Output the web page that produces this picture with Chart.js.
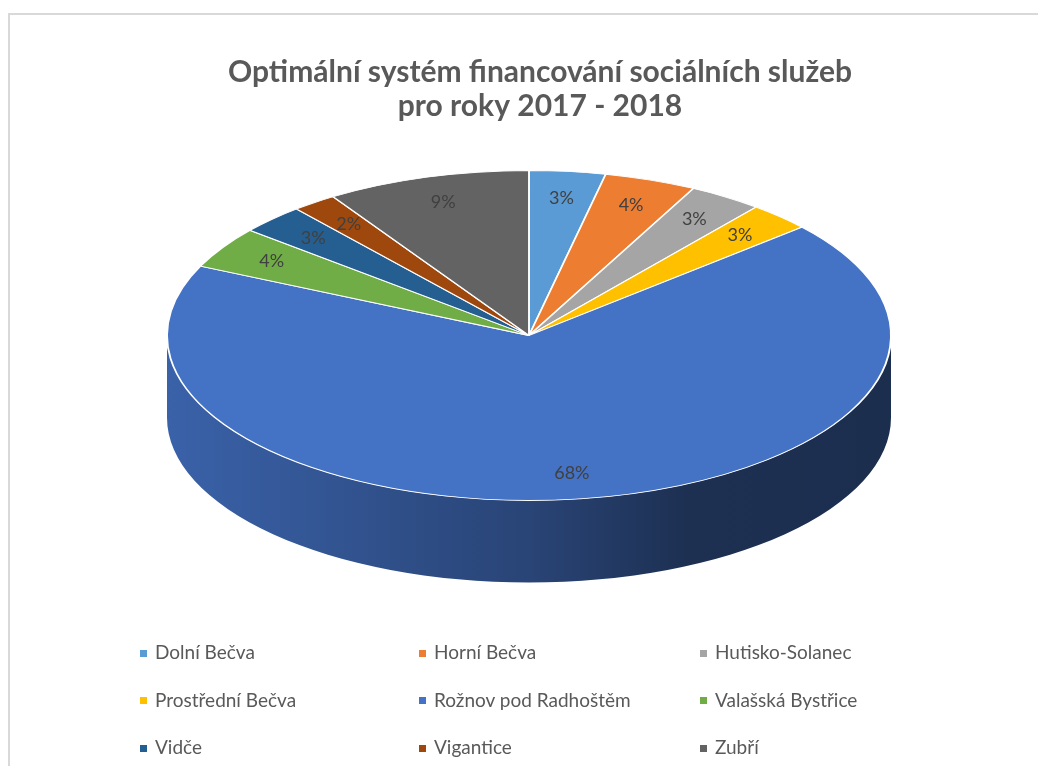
<!DOCTYPE html>
<html>
<head>
<meta charset="utf-8">
<title>Optimální systém financování sociálních služeb</title>
<script src="https://cdn.jsdelivr.net/npm/chart.js@4.4.1/dist/chart.umd.min.js"></script>
<style>
    html, body { margin: 0; padding: 0; background: #fff; }
    #wrap { position: relative; width: 1038px; height: 766px; overflow: hidden; }
    #frame {
        position: absolute; left: 8px; top: 13px; width: 1100px; height: 800px;
        border-left: 2px solid #d9d9d9; border-top: 2px solid #d9d9d9;
    }
    #chartBox { position: absolute; left: 0; top: 0; width: 1038px; height: 766px; }
    #legend { position: absolute; left: 0; top: 0; font-family: Lato, sans-serif; font-size: 19px; color: #595959; }
    #legend .item { position: absolute; white-space: nowrap; line-height: 22px; }
    #legend .box { display: inline-block; width: 7px; height: 7px; margin-right: 8px; vertical-align: middle; position: relative; top: -1px; }
</style>
</head>
<body>
<div id="wrap">
    <div id="frame"></div>
    <div id="chartBox"><canvas id="pieChart"></canvas></div>
    <div id="legend"></div>
</div>
<script>
// ========================================
// Data
// ========================================
const titleLines = ['Optimální systém financování sociálních služeb', 'pro roky 2017 - 2018'];

const municipalities = [
    'Dolní Bečva', 'Horní Bečva', 'Hutisko-Solanec',
    'Prostřední Bečva', 'Rožnov pod Radhoštěm', 'Valašská Bystřice',
    'Vidče', 'Vigantice', 'Zubří'
];

// share in percent
const shares = [3.4, 4.1, 3.3, 2.8, 68.3, 4.1, 2.9, 2.0, 9.1];

const sliceColors = [
    '#5b9bd5', '#ed7d31', '#a5a5a5',
    '#ffc000', '#4472c4', '#70ad47',
    '#255e91', '#9e480e', '#636363'
];

// ========================================
// Helpers
// ========================================
function shade(hex, f) {
    const n = parseInt(hex.slice(1), 16);
    const r = Math.round(((n >> 16) & 255) * f);
    const g = Math.round(((n >> 8) & 255) * f);
    const b = Math.round((n & 255) * f);
    return `rgb(${r}, ${g}, ${b})`;
}

/**
 * Fake 3D pie: draws the side wall, then squashes the library's arcs into an ellipse
 */
const pie3d = {
    id: 'pie3d',
    beforeDatasetsDraw(chart, args, opts) {
        const meta = chart.getDatasetMeta(0);
        const first = meta.data[0];
        const R = first.outerRadius;
        const cx = first.x + opts.dx, cy = first.y;
        const ctx = chart.ctx;

        // side wall (only the front half is visible)
        meta.data.forEach((arc, i) => {
            [0, 2 * Math.PI].forEach(off => {
                const a1 = Math.max(arc.startAngle, off);
                const a2 = Math.min(arc.endAngle, off + Math.PI);
                if (a2 <= a1) return;
                const base = sliceColors[i];
                const grad = ctx.createLinearGradient(cx - opts.rx, 0, cx + opts.rx, 0);
                grad.addColorStop(0, shade(base, 0.86));
                grad.addColorStop(0.5, shade(base, 0.6));
                grad.addColorStop(0.72, shade(base, 0.42));
                grad.addColorStop(1, shade(base, 0.4));
                ctx.beginPath();
                ctx.ellipse(cx, cy, opts.rx, opts.ry, 0, a1, a2, false);
                ctx.ellipse(cx, cy + opts.depth, opts.rx, opts.ry, 0, a2, a1, true);
                ctx.closePath();
                ctx.fillStyle = grad;
                ctx.fill();
            });
        });

        ctx.save();
        ctx.translate(cx, cy);
        ctx.scale(opts.rx / R, opts.ry / R);
        ctx.translate(-first.x, -first.y);
    },
    afterDatasetsDraw(chart, args, opts) {
        const ctx = chart.ctx;
        ctx.restore();

        const meta = chart.getDatasetMeta(0);
        const data = chart.data.datasets[0].data;
        const total = data.reduce((a, b) => a + b, 0);

        ctx.save();
        ctx.font = '18px Lato';
        ctx.fillStyle = '#404040';
        ctx.textAlign = 'center';
        ctx.textBaseline = 'middle';
        meta.data.forEach((arc, i) => {
            const mid = (arc.startAngle + arc.endAngle) / 2;
            const x = arc.x + opts.dx + Math.cos(mid) * opts.rx * opts.labelPos;
            const y = arc.y + Math.sin(mid) * opts.ry * opts.labelPos;
            ctx.fillText(Math.round(data[i] / total * 100) + '%', x, y);
        });
        ctx.restore();
    }
};

// ========================================
// Chart
// ========================================
const ctx = document.getElementById('pieChart');

new Chart(ctx, {
    type: 'pie',
    data: {
        labels: municipalities,
        datasets: [{
            data: shares,
            backgroundColor: sliceColors,
            borderColor: '#ffffff',
            borderWidth: 1
        }]
    },
    options: {
        responsive: true,
        maintainAspectRatio: false,
        animation: false,
        events: [],
        layout: {
            padding: { left: 42, right: 0, top: 0, bottom: 239 }
        },
        plugins: {
            legend: { display: false },
            tooltip: { enabled: false },
            title: {
                display: true,
                text: titleLines,
                color: '#595959',
                font: { family: 'Lato', size: 30, weight: 'bold', lineHeight: 1.15 },
                padding: { top: 55, bottom: 20 }
            },
            pie3d: { rx: 362, ry: 165, depth: 82, labelPos: 0.84, dx: -11 }
        }
    },
    plugins: [pie3d]
});

// HTML legend in three columns
const legendBox = document.getElementById('legend');
const colLeft = [140, 419, 700];
municipalities.forEach((name, i) => {
    const item = document.createElement('div');
    item.className = 'item';
    item.style.left = colLeft[i % 3] + 'px';
    item.style.top = (641 + Math.floor(i / 3) * 47.5) + 'px';
    const box = document.createElement('span');
    box.className = 'box';
    box.style.background = sliceColors[i];
    item.appendChild(box);
    item.appendChild(document.createTextNode(name));
    legendBox.appendChild(item);
});
</script>
</body>
</html>
